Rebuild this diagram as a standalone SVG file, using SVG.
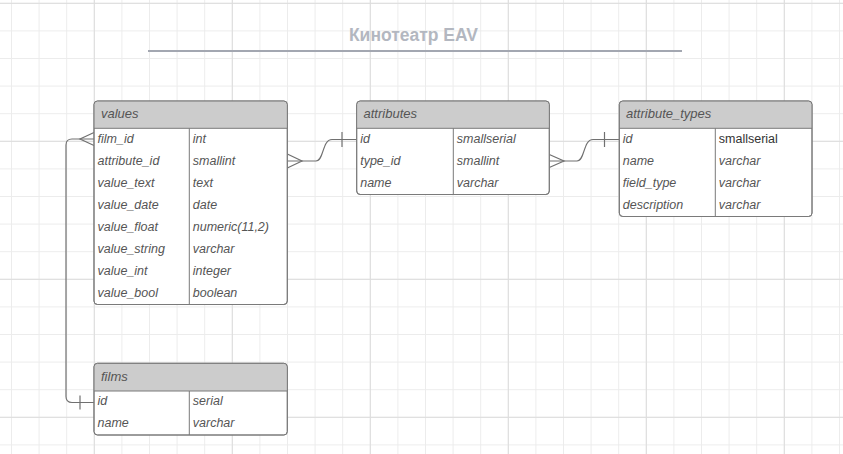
<svg xmlns="http://www.w3.org/2000/svg" width="843" height="454" viewBox="0 0 843 454">
<defs>
<pattern id="minor" patternUnits="userSpaceOnUse" x="93.8" y="2.8" width="27.6" height="27.6">
<path d="M0.5 0 V27.6 M0 0.5 H27.6" stroke="#ececec" stroke-width="1" fill="none"/>
</pattern>
<pattern id="major" patternUnits="userSpaceOnUse" x="93.8" y="2.8" width="138" height="138">
<path d="M0.5 0 V138 M0 0.5 H138" stroke="#dcdcdc" stroke-width="1" fill="none"/>
</pattern>
<style>
.box{fill:#ffffff;stroke:#7a7a7a;stroke-width:1}
.hdr{fill:#cccccc;stroke:none}
.ln{stroke:#7a7a7a;stroke-width:1;fill:none}
.t{font-family:"Liberation Sans",Arial,sans-serif;font-style:italic;font-size:12.5px;fill:#555555}
.h{font-family:"Liberation Sans",Arial,sans-serif;font-style:italic;font-size:13px;fill:#555555}
.n{font-family:"Liberation Sans",Arial,sans-serif;font-size:12.5px;fill:#333333}
.c{stroke:#707070;stroke-width:1.2;fill:none}
.title{font-family:"Liberation Sans",Arial,sans-serif;font-weight:bold;font-size:17.5px;fill:#b3b7c0}
</style>
</defs>
<rect width="843" height="454" fill="#ffffff"/>
<rect width="843" height="454" fill="url(#minor)"/>
<rect width="843" height="454" fill="url(#major)"/>

<g id="title">
<text class="title" x="413.5" y="41" text-anchor="middle">Кинотеатр EAV</text>
<line x1="148" y1="51" x2="682" y2="51" stroke="#a3a7b1" stroke-width="2"/>
</g>

<g id="connectors">
<path class="c" d="M287.3 161 H316 C324 161 322 139.5 332 139.5 H356.7"/>
<path class="c" d="M287.3 154 L302 161 L287.3 168"/>
<line class="c" x1="342" y1="132" x2="342" y2="147"/>
<path class="c" d="M549.3 161 H577 C585 161 583 139.5 593 139.5 H619.3"/>
<path class="c" d="M549.3 154.5 L564 161 L549.3 167.5"/>
<line class="c" x1="604.5" y1="132" x2="604.5" y2="147"/>
<path class="c" d="M94 139 H72 Q66 139 66 145 V396.5 Q66 402.5 72 402.5 H94"/>
<path class="c" d="M94 132.5 L80 139 L94 145.5"/>
<line class="c" x1="80" y1="395.5" x2="80" y2="409.5"/>
</g>

<g id="values">
<rect class="box" x="94" y="101" width="193.3" height="203.5" rx="3.5"/>
<path class="hdr" d="M97.5 101.5 H283.8 Q286.8 101.5 286.8 104.5 V128.3 H94.5 V104.5 Q94.5 101.5 97.5 101.5 Z"/>
<rect x="94" y="101" width="193.3" height="203.5" rx="3.5" fill="none" stroke="#7a7a7a"/>
<line class="ln" x1="94" y1="128.3" x2="287.3" y2="128.3"/>
<line class="ln" x1="189.3" y1="128.3" x2="189.3" y2="304.5"/>
<text class="h" x="101" y="118">values</text>
<text class="t" x="97.5" y="142.5">film_id</text><text class="t" x="192.8" y="142.5">int</text>
<text class="t" x="97.5" y="164.5">attribute_id</text><text class="t" x="192.8" y="164.5">smallint</text>
<text class="t" x="97.5" y="186.5">value_text</text><text class="t" x="192.8" y="186.5">text</text>
<text class="t" x="97.5" y="208.5">value_date</text><text class="t" x="192.8" y="208.5">date</text>
<text class="t" x="97.5" y="230.5">value_float</text><text class="t" x="192.8" y="230.5">numeric(11,2)</text>
<text class="t" x="97.5" y="252.5">value_string</text><text class="t" x="192.8" y="252.5">varchar</text>
<text class="t" x="97.5" y="274.5">value_int</text><text class="t" x="192.8" y="274.5">integer</text>
<text class="t" x="97.5" y="296.5">value_bool</text><text class="t" x="192.8" y="296.5">boolean</text>
</g>

<g id="attributes">
<rect class="box" x="356.7" y="101" width="192.6" height="93.5" rx="3.5"/>
<path class="hdr" d="M360.2 101.5 H545.8 Q548.8 101.5 548.8 104.5 V128.3 H357.2 V104.5 Q357.2 101.5 360.2 101.5 Z"/>
<rect x="356.7" y="101" width="192.6" height="93.5" rx="3.5" fill="none" stroke="#7a7a7a"/>
<line class="ln" x1="356.7" y1="128.3" x2="549.3" y2="128.3"/>
<line class="ln" x1="453.3" y1="128.3" x2="453.3" y2="194.5"/>
<text class="h" x="363.5" y="118">attributes</text>
<text class="t" x="360.2" y="142.5">id</text><text class="t" x="456.8" y="142.5">smallserial</text>
<text class="t" x="360.2" y="164.5">type_id</text><text class="t" x="456.8" y="164.5">smallint</text>
<text class="t" x="360.2" y="186.5">name</text><text class="t" x="456.8" y="186.5">varchar</text>
</g>

<g id="attribute_types">
<rect class="box" x="619.3" y="101" width="192.7" height="115.5" rx="3.5"/>
<path class="hdr" d="M622.8 101.5 H808.5 Q811.5 101.5 811.5 104.5 V128.3 H619.8 V104.5 Q619.8 101.5 622.8 101.5 Z"/>
<rect x="619.3" y="101" width="192.7" height="115.5" rx="3.5" fill="none" stroke="#7a7a7a"/>
<line class="ln" x1="619.3" y1="128.3" x2="812" y2="128.3"/>
<line class="ln" x1="715.3" y1="128.3" x2="715.3" y2="216.5"/>
<text class="h" x="626" y="118">attribute_types</text>
<text class="t" x="622.8" y="142.5">id</text><text class="n" x="718.8" y="142.5">smallserial</text>
<text class="t" x="622.8" y="164.5">name</text><text class="t" x="718.8" y="164.5">varchar</text>
<text class="t" x="622.8" y="186.5">field_type</text><text class="t" x="718.8" y="186.5">varchar</text>
<text class="t" x="622.8" y="208.5">description</text><text class="t" x="718.8" y="208.5">varchar</text>
</g>

<g id="films">
<rect class="box" x="94" y="363.3" width="193.3" height="71.7" rx="3.5"/>
<path class="hdr" d="M97.5 363.8 H283.8 Q286.8 363.8 286.8 366.8 V391 H94.5 V366.8 Q94.5 363.8 97.5 363.8 Z"/>
<rect x="94" y="363.3" width="193.3" height="71.7" rx="3.5" fill="none" stroke="#7a7a7a"/>
<line class="ln" x1="94" y1="391" x2="287.3" y2="391"/>
<line class="ln" x1="189.3" y1="391" x2="189.3" y2="435"/>
<text class="h" x="101" y="380.5">films</text>
<text class="t" x="97.5" y="405">id</text><text class="t" x="192.8" y="405">serial</text>
<text class="t" x="97.5" y="427">name</text><text class="t" x="192.8" y="427">varchar</text>
</g>
</svg>
